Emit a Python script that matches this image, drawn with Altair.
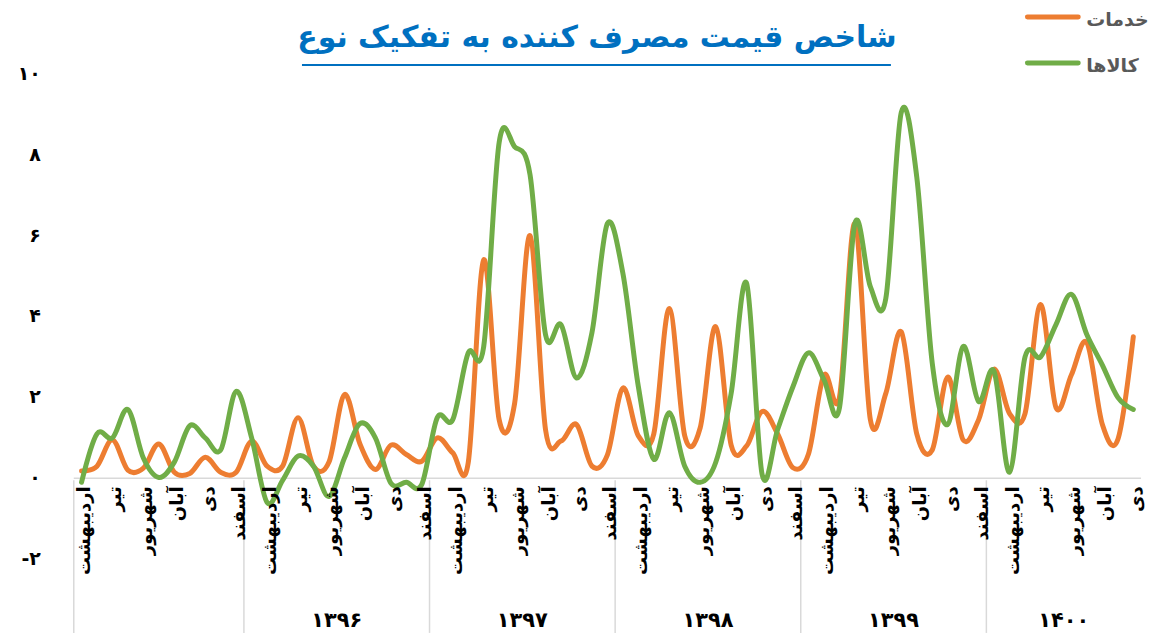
import altair as alt
import pandas as pd

# ---------------- data ----------------
month_names = ["فروردین", "اردیبهشت", "خرداد", "تیر", "مرداد", "شهریور",
               "مهر", "آبان", "آذر", "دی", "بهمن", "اسفند"]
year_labels = ["", "۱۳۹۶", "۱۳۹۷", "۱۳۹۸", "۱۳۹۹", "۱۴۰۰"]
year_month_counts = [11, 12, 12, 12, 12, 10]
year_first_month = [1, 0, 0, 0, 0, 0]

services = [0.18, 0.3, 0.95, 0.2, 0.25, 0.85, 0.15, 0.12, 0.52, 0.15, 0.15,
            0.92, 0.3, 0.3, 1.5, 0.3, 0.4, 2.07, 0.85, 0.22, 0.82, 0.59, 0.42,
            1.0, 0.63, 0.38, 5.4, 1.45, 1.85, 6.0, 1.2, 0.92, 1.33, 0.3, 0.58,
            2.23, 1.05, 1.1, 4.2, 1.05, 1.25, 3.75, 0.82, 0.8, 1.65, 1.1, 0.26,
            0.6, 2.55, 2.0, 6.3, 1.45, 2.1, 3.62, 1.1, 0.7, 2.5, 0.95, 1.45,
            2.7, 1.6, 1.6, 4.3, 1.75, 2.56, 3.35, 1.33, 0.96, 3.5]
goods = [-0.1, 1.1, 1.0, 1.7, 0.5, 0.02, 0.4, 1.3, 1.0, 0.7, 2.15,
         1.0, -0.6, -0.05, 0.55, 0.3, -0.45, 0.5, 1.35, 1.0, -0.12, -0.1, -0.15,
         1.5, 1.45, 3.1, 3.25, 8.3, 8.2, 7.5, 3.55, 3.8, 2.48, 3.6, 6.3,
         5.07, 2.27, 0.47, 1.62, 0.3, -0.1, 0.39, 2.1, 4.82, 0.1, 1.2, 2.27,
         3.1, 2.44, 1.74, 6.3, 4.74, 4.45, 9.05, 7.45, 2.85, 1.33, 3.26, 1.9,
         2.64, 0.15, 3.0, 3.0, 3.8, 4.55, 3.55, 2.8, 2.0, 1.7]

series_names = ["خدمات", "کالاها"]
series_colors = ["#ED7D31", "#70AD47"]

y_tick_values = [-2, 0, 2, 4, 6, 8, 10]
y_tick_labels = ["-۲", "۰", "۲", "۴", "۶", "۸", "۱۰"]

title_text = "شاخص قیمت مصرف کننده به تفکیک نوع"

# ---------------- tables ----------------
n = len(services)
month_rows = []
group_rows = []
k = 0
for g, cnt in enumerate(year_month_counts):
    start = k
    for m in range(cnt):
        name = month_names[(year_first_month[g] + m) % 12]
        month_rows.append({"idx": k, "label": name if k % 2 == 0 else ""})
        k += 1
    group_rows.append({"start": start - 0.5, "center": (start + k - 1) / 2,
                       "label": year_labels[g]})
months_df = pd.DataFrame(month_rows)
groups_df = pd.DataFrame(group_rows)

lines_df = pd.concat([
    pd.DataFrame({"idx": range(n), "val": services, "series": series_names[0], "ord": 0}),
    pd.DataFrame({"idx": range(n), "val": goods, "series": series_names[1], "ord": 1}),
])

yticks_df = pd.DataFrame({"v": y_tick_values, "lab": y_tick_labels})
axis_df = pd.DataFrame({"x": [-0.5], "x2": [n - 0.5], "y": [0]})

FONT = "DejaVu Sans"
W, H = 1071, 487
xs = alt.Scale(domain=[-0.5, n - 0.5], nice=False, zero=False)
ys = alt.Scale(domain=[min(y_tick_values), max(y_tick_values)], nice=False, zero=False)
cs = alt.Scale(domain=series_names, range=series_colors)

zero_px = H * (max(y_tick_values) - 0) / (max(y_tick_values) - min(y_tick_values))

axis_line = alt.Chart(axis_df).mark_rule(color="#D9D9D9", strokeWidth=1.5).encode(
    x=alt.X("x:Q", scale=xs, axis=None), x2="x2:Q",
    y=alt.Y("y:Q", scale=ys, axis=None))

separators = alt.Chart(groups_df).mark_rule(color="#D9D9D9", strokeWidth=1.5).encode(
    x=alt.X("start:Q", scale=xs, axis=None),
    y=alt.value(zero_px + 2), y2=alt.value(H + 74))

lines = alt.Chart(lines_df).mark_line(interpolate="cardinal", strokeWidth=5,
                                      strokeCap="round", strokeJoin="round").encode(
    x=alt.X("idx:Q", scale=xs, axis=None),
    y=alt.Y("val:Q", scale=ys, axis=None),
    color=alt.Color("series:N", scale=cs, legend=None),
    detail="series:N",
    order="ord:Q")

month_text = alt.Chart(months_df).mark_text(
    angle=270, align="right", baseline="middle", font=FONT, fontSize=18,
    fontWeight="bold", color="#000000", dy=4).encode(
    x=alt.X("idx:Q", scale=xs, axis=None),
    y=alt.value(zero_px + 8),
    text="label:N")

year_text = alt.Chart(groups_df).mark_text(
    align="center", baseline="middle", font=FONT, fontSize=21,
    fontWeight="bold", color="#000000").encode(
    x=alt.X("center:Q", scale=xs, axis=None),
    y=alt.value(549),
    text="label:N")

ytick_text = alt.Chart(yticks_df).mark_text(
    align="right", baseline="middle", font=FONT, fontSize=19,
    fontWeight="bold", color="#000000").encode(
    x=alt.value(-33),
    y=alt.Y("v:Q", scale=ys, axis=None),
    text="lab:N")

title_df = pd.DataFrame({"t": [title_text]})
title = alt.Chart(title_df).mark_text(
    align="center", baseline="middle", font=FONT, fontSize=30,
    fontWeight="bold", color="#0070C0").encode(
    x=alt.value(525), y=alt.value(-36), text="t:N")
underline = alt.Chart(title_df).mark_rule(color="#0070C0", strokeWidth=2).encode(
    x=alt.value(229), x2=alt.value(820), y=alt.value(-9))

legend_layers = []
for i, (nm, col) in enumerate(zip(series_names, series_colors)):
    ly = -57 + i * 46
    ldf = pd.DataFrame({"t": [nm]})
    legend_layers.append(alt.Chart(ldf).mark_rule(
        color=col, strokeWidth=5, strokeCap="round").encode(
        x=alt.value(957), x2=alt.value(1008), y=alt.value(ly)))
    legend_layers.append(alt.Chart(ldf).mark_text(
        align="left", baseline="middle", font=FONT, fontSize=19,
        fontWeight="bold", color="#595959").encode(
        x=alt.value(1016), y=alt.value(ly + 3), text="t:N"))

chart = alt.layer(
    axis_line, separators, lines, month_text, year_text, ytick_text,
    title, underline, *legend_layers
).properties(
    width=W, height=H,
    autosize=alt.AutoSizeParams(type="none"),
    padding={"left": 66, "top": 65, "right": 12, "bottom": 74},
).configure_view(stroke=None)

chart.save("out.html", embed_options={"renderer": "svg", "actions": False})
